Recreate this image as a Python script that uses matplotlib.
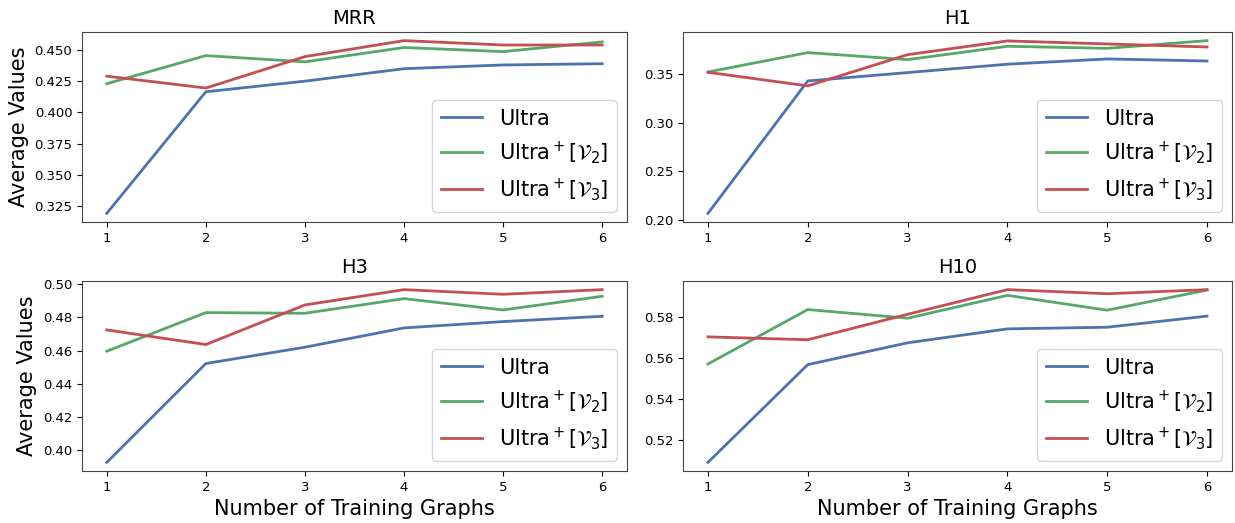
import matplotlib
matplotlib.use("Agg")
import matplotlib.pyplot as plt

x_graphs = [1, 2, 3, 4, 5, 6]
metric_titles = ["MRR", "H1", "H3", "H10"]
series_labels = ["Ultra", r"Ultra$^+[\mathcal{V}_2]$", r"Ultra$^+[\mathcal{V}_3]$"]
series_colors = ["#4C72B0", "#55A868", "#C44E52"]

mrr_ultra = [0.319, 0.4165, 0.425, 0.435, 0.438, 0.439]
mrr_v2 = [0.423, 0.4455, 0.4405, 0.452, 0.4487, 0.4565]
mrr_v3 = [0.429, 0.4195, 0.4447, 0.4575, 0.454, 0.454]

h1_ultra = [0.2068, 0.3428, 0.3514, 0.360, 0.3654, 0.3633]
h1_v2 = [0.352, 0.3719, 0.3647, 0.3784, 0.3763, 0.3842]
h1_v3 = [0.3517, 0.3377, 0.3698, 0.3839, 0.3808, 0.3777]

h3_ultra = [0.3928, 0.4522, 0.462, 0.4736, 0.4774, 0.4806]
h3_v2 = [0.4596, 0.4828, 0.4824, 0.4912, 0.4844, 0.4926]
h3_v3 = [0.4724, 0.4636, 0.4874, 0.4966, 0.4938, 0.4966]

h10_ultra = [0.509, 0.5566, 0.5672, 0.574, 0.5748, 0.5802]
h10_v2 = [0.5569, 0.5834, 0.5792, 0.5903, 0.5831, 0.5929]
h10_v3 = [0.5701, 0.5687, 0.5811, 0.5931, 0.5911, 0.5931]

all_data = [
    [mrr_ultra, mrr_v2, mrr_v3],
    [h1_ultra, h1_v2, h1_v3],
    [h3_ultra, h3_v2, h3_v3],
    [h10_ultra, h10_v2, h10_v3],
]

fig = plt.figure(figsize=(12.35, 5.23), dpi=100)
W, H = 1235.0, 523.0
boxes = [
    (82, 32, 627, 222),
    (683, 32, 1232, 222),
    (82, 281, 627, 471),
    (683, 281, 1232, 471),
]

for i, (l, t, r, b) in enumerate(boxes):
    ax = fig.add_axes([l / W, 1 - b / H, (r - l) / W, (b - t) / H])
    for vals, lab, col in zip(all_data[i], series_labels, series_colors):
        ax.plot(x_graphs, vals, color=col, lw=2, label=lab)
    ax.set_title(metric_titles[i], fontsize=14)
    ax.set_xticks(x_graphs)
    ax.tick_params(labelsize=9.5)
    for s in ax.spines.values():
        s.set_color("#444444")
    ax.legend(loc="lower right", fontsize=15)
    if i % 2 == 0:
        ax.set_ylabel("Average Values", fontsize=15)
    if i >= 2:
        ax.set_xlabel("Number of Training Graphs", fontsize=15)

fig.savefig("out.png", dpi=100)
